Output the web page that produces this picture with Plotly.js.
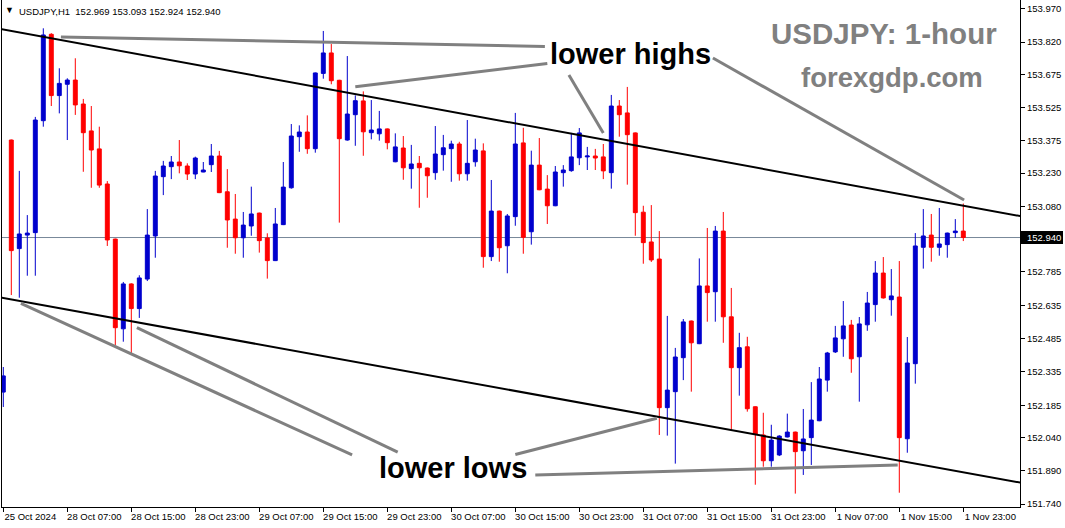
<!DOCTYPE html>
<html><head><meta charset="utf-8">
<script src="https://cdn.plot.ly/plotly-3.0.1.min.js"></script>
<style>html,body{margin:0;padding:0;background:#fff;}#chart{width:1065px;height:528px;}</style>
</head><body><div id="chart"></div>
<script>
// ---- data (USDJPY H1, bar 0 = 25 Oct 23:00 ... bar 120 = 1 Nov 23:00) ----
const openP = [152.244,153.379,152.890,152.951,152.962,153.466,153.855,153.579,153.630,153.649,
153.541,153.420,153.339,153.181,152.933,152.529,152.731,152.620,152.753,152.947,
153.214,153.259,153.280,153.262,153.226,153.235,153.268,153.307,153.146,153.023,
152.939,152.992,153.050,152.938,152.836,152.998,153.164,153.394,153.415,153.340,
153.679,153.771,153.648,153.379,153.493,153.555,153.412,153.407,153.429,153.281,
153.343,153.250,153.274,153.253,153.232,153.313,153.340,153.361,153.227,153.281,
153.330,152.854,153.059,152.903,153.034,153.366,152.966,153.266,153.158,153.083,
153.232,153.241,153.299,153.303,153.307,153.303,153.232,153.532,153.501,153.411,
153.054,152.920,152.843,152.174,152.246,152.399,152.564,152.462,152.722,152.696,
152.969,152.583,152.354,152.448,152.178,152.051,151.935,151.961,152.042,152.064,
151.980,152.039,152.115,152.298,152.425,152.484,152.546,152.403,152.547,152.638,
152.780,152.660,152.672,152.034,152.372,152.896,152.951,152.896,152.908,152.962,152.969];
const highP = [152.357,153.381,153.240,153.041,153.483,153.882,153.860,153.702,153.657,153.747,
153.564,153.532,153.439,153.194,152.935,152.740,152.734,152.770,153.068,153.240,
153.285,153.307,153.379,153.274,153.304,153.280,153.361,153.330,153.248,153.136,
153.055,153.169,153.052,152.959,153.073,153.280,153.451,153.445,153.490,153.683,
153.870,153.811,153.650,153.757,153.580,153.598,153.559,153.510,153.431,153.409,
153.397,153.357,153.307,153.255,153.442,153.402,153.376,153.371,153.469,153.385,
153.364,153.199,153.061,153.046,153.501,153.434,153.331,153.388,153.221,153.262,
153.266,153.411,153.433,153.348,153.339,153.361,153.582,153.559,153.618,153.413,
153.083,153.086,152.969,152.587,152.443,152.573,152.566,152.846,152.983,152.992,
153.055,152.713,152.511,152.493,152.180,152.151,152.097,152.050,152.147,152.066,
152.168,152.289,152.357,152.425,152.542,152.654,152.569,152.582,152.695,152.834,
152.852,152.798,152.834,152.492,152.960,153.068,153.046,153.073,152.962,153.023,153.093];
const lowP = [152.177,152.681,152.669,152.768,152.768,153.439,153.532,153.499,153.379,153.492,
153.236,153.164,153.164,152.902,152.456,152.471,152.416,152.578,152.744,152.849,
153.131,153.203,153.229,153.199,153.203,153.234,153.235,153.140,152.894,152.867,
152.849,152.948,152.872,152.755,152.834,152.996,153.160,153.326,153.317,153.322,
153.655,153.630,153.007,153.376,153.353,153.308,153.382,153.376,153.337,153.279,
153.200,153.160,153.074,153.119,153.200,153.241,153.191,153.196,153.196,153.259,
152.804,152.834,152.831,152.779,152.993,152.867,152.908,153.153,153.001,153.081,
153.169,153.236,153.266,153.244,153.244,153.203,153.160,153.394,153.178,152.948,
152.822,152.830,152.051,152.048,151.922,152.298,152.246,152.460,152.561,152.561,
152.466,152.075,152.228,152.156,151.827,151.908,151.908,151.956,152.040,151.787,
151.871,151.916,152.113,152.246,152.420,152.403,152.331,152.201,152.520,152.561,
152.665,152.588,151.791,151.971,152.282,152.800,152.831,152.858,152.849,152.939,152.924];
const closeP = [152.317,152.881,152.956,152.960,153.469,153.852,153.579,153.634,153.649,153.537,
153.412,153.334,153.176,152.929,152.534,152.731,152.620,152.758,152.951,153.217,
153.262,153.280,153.263,153.226,153.298,153.244,153.307,153.142,153.019,152.939,
152.996,153.046,152.926,152.836,153.001,153.167,153.397,153.415,153.340,153.681,
153.771,153.646,153.385,153.496,153.556,153.416,153.424,153.429,153.367,153.348,
153.254,153.271,153.254,153.218,153.316,153.344,153.361,153.227,153.274,153.334,
152.854,153.059,152.894,153.037,153.361,152.941,153.266,153.155,153.083,153.235,
153.244,153.303,153.411,153.307,153.298,153.240,153.532,153.493,153.403,153.052,
152.917,152.839,152.174,152.253,152.402,152.560,152.466,152.722,152.692,152.969,
152.583,152.354,152.444,152.169,152.055,151.935,152.028,152.046,152.064,151.976,
152.033,152.118,152.303,152.420,152.488,152.542,152.394,152.551,152.645,152.780,
152.668,152.677,152.039,152.375,152.902,152.947,152.896,152.911,152.960,152.969,152.940];

const timeTickIdx = [0,8,16,24,32,40,48,56,64,72,80,88,96,104,112,120];
const timeTickText = ["25 Oct 2024","28 Oct 07:00","28 Oct 15:00","28 Oct 23:00","29 Oct 07:00",
  "29 Oct 15:00","29 Oct 23:00","30 Oct 07:00","30 Oct 15:00","30 Oct 23:00","31 Oct 07:00",
  "31 Oct 15:00","31 Oct 23:00","1 Nov 07:00","1 Nov 15:00","1 Nov 23:00"];
const priceTickVals = [153.970,153.820,153.675,153.525,153.375,153.230,153.080,152.785,
  152.635,152.485,152.335,152.185,152.040,151.890,151.740];
const priceTickText = priceTickVals.map(v => v.toFixed(3));
const lastPrice = 152.940;
const headerText = "USDJPY,H1\u00a0 152.969 153.093 152.924 152.940";

// trend channel (bar index, price)
const upperTrendX = [-0.2, 127.2], upperTrendY = [153.878, 153.036];
const lowerTrendX = [-0.2, 127.2], lowerTrendY = [152.669, 151.836];
// gray pointer lines: [x0, y0, x1, y1] in bar index / price
const pointerLines = [
  [7.2, 153.843, 67.7, 153.800],
  [44.0, 153.619, 68.0, 153.724],
  [70.7, 153.672, 75.0, 153.411],
  [88.7, 153.748, 120.1, 153.109],
  [2.2, 152.643, 43.6, 151.961],
  [16.7, 152.534, 49.3, 151.974],
  [64.0, 151.963, 81.7, 152.126],
  [66.5, 151.871, 111.8, 151.916]
];

// ---- layout geometry ----
const W = 1065, H = 528, ML = 2, MR = 45, MT = 0, MB = 21;
const PW = W - ML - MR, PH = H - MT - MB;
const Y_MIN = 151.7267, Y_MAX = 154.0094;
const px = x => (x - ML) / PW;
const py = y => 1 - (y - MT) / PH;

const barIdx = openP.map((_, i) => i);
const blue = '#0000CD', red = '#FF0000';

const trace = {
  type: 'candlestick', x: barIdx, open: openP, high: highP, low: lowP, close: closeP,
  increasing: {line: {color: blue, width: 1}, fillcolor: blue},
  decreasing: {line: {color: red, width: 1}, fillcolor: red},
  whiskerwidth: 0, hoverinfo: 'none', showlegend: false
};

const shapes = [];
shapes.push({type: 'line', xref: 'paper', x0: 0, x1: 1, yref: 'y', y0: lastPrice, y1: lastPrice,
  line: {color: '#778899', width: 1}, layer: 'below'});
shapes.push({type: 'line', xref: 'x', yref: 'y', x0: upperTrendX[0], x1: upperTrendX[1],
  y0: upperTrendY[0], y1: upperTrendY[1], line: {color: '#000', width: 2}});
shapes.push({type: 'line', xref: 'x', yref: 'y', x0: lowerTrendX[0], x1: lowerTrendX[1],
  y0: lowerTrendY[0], y1: lowerTrendY[1], line: {color: '#000', width: 2}});
pointerLines.forEach(l => shapes.push({type: 'line', xref: 'x', yref: 'y',
  x0: l[0], y0: l[1], x1: l[2], y1: l[3], line: {color: '#808080', width: 3}}));
// current price box on the right scale
const pxPerUnit = PH / (Y_MAX - Y_MIN);
shapes.push({type: 'rect', xref: 'paper', x0: 1, x1: px(1063), yref: 'y',
  y0: lastPrice - 6.5 / pxPerUnit, y1: lastPrice + 6.5 / pxPerUnit,
  fillcolor: '#000', line: {width: 0}});

const tickFont = {family: 'Liberation Sans, Arial, sans-serif', size: 9.5, color: '#000'};
const annFont = (size, color) => ({family: 'Liberation Sans, Arial, sans-serif', size: size, color: color});

const annotations = [
  {xref: 'paper', yref: 'paper', x: px(9.5), y: py(10.5), text: '▼', showarrow: false,
    font: annFont(9, '#000'), xanchor: 'center', yanchor: 'middle'},
  {xref: 'paper', yref: 'paper', x: px(17), y: py(11), text: headerText, showarrow: false,
    font: annFont(9.5, '#000'), xanchor: 'left', yanchor: 'middle'},
  {xref: 'paper', yref: 'y', x: 1, xshift: 5, y: lastPrice, text: lastPrice.toFixed(3), showarrow: false,
    font: annFont(9.5, '#fff'), xanchor: 'left', yanchor: 'middle'},
  {xref: 'paper', yref: 'paper', x: px(630), y: py(54), text: '<b>lower highs</b>', showarrow: false,
    font: annFont(29, '#000'), xanchor: 'center', yanchor: 'middle'},
  {xref: 'paper', yref: 'paper', x: px(453), y: py(468), text: '<b>lower lows</b>', showarrow: false,
    font: annFont(29, '#000'), xanchor: 'center', yanchor: 'middle'},
  {xref: 'paper', yref: 'paper', x: px(884), y: py(33), text: '<b>USDJPY: 1-hour</b>', showarrow: false,
    font: annFont(29.5, '#808080'), xanchor: 'center', yanchor: 'middle'},
  {xref: 'paper', yref: 'paper', x: px(892), y: py(77), text: '<b>forexgdp.com</b>', showarrow: false,
    font: annFont(27.5, '#808080'), xanchor: 'center', yanchor: 'middle'}
];

const layout = {
  width: W, height: H, margin: {l: ML, r: MR, t: MT, b: MB, pad: 0},
  paper_bgcolor: '#fff', plot_bgcolor: '#fff', showlegend: false,
  xaxis: {range: [-0.1625, 127.0875], showgrid: false, zeroline: false,
    showline: true, linecolor: '#000', linewidth: 1, ticks: 'outside', ticklen: 4, tickcolor: '#000',
    tickvals: timeTickIdx, ticktext: timeTickText, tickfont: tickFont, ticklabelshift: 27,
    ticklabelstandoff: -3, rangeslider: {visible: false}, fixedrange: true},
  yaxis: {side: 'right', range: [Y_MIN, Y_MAX], showgrid: false, zeroline: false,
    showline: true, mirror: true, linecolor: '#000', linewidth: 1, ticks: 'outside', ticklen: 4,
    tickcolor: '#000', tickvals: priceTickVals, ticktext: priceTickText, tickfont: tickFont, fixedrange: true},
  boxgap: 0.3, boxgroupgap: 0.3,
  shapes: shapes, annotations: annotations
};

Plotly.newPlot('chart', [trace], layout, {staticPlot: true, displayModeBar: false});
</script></body></html>
